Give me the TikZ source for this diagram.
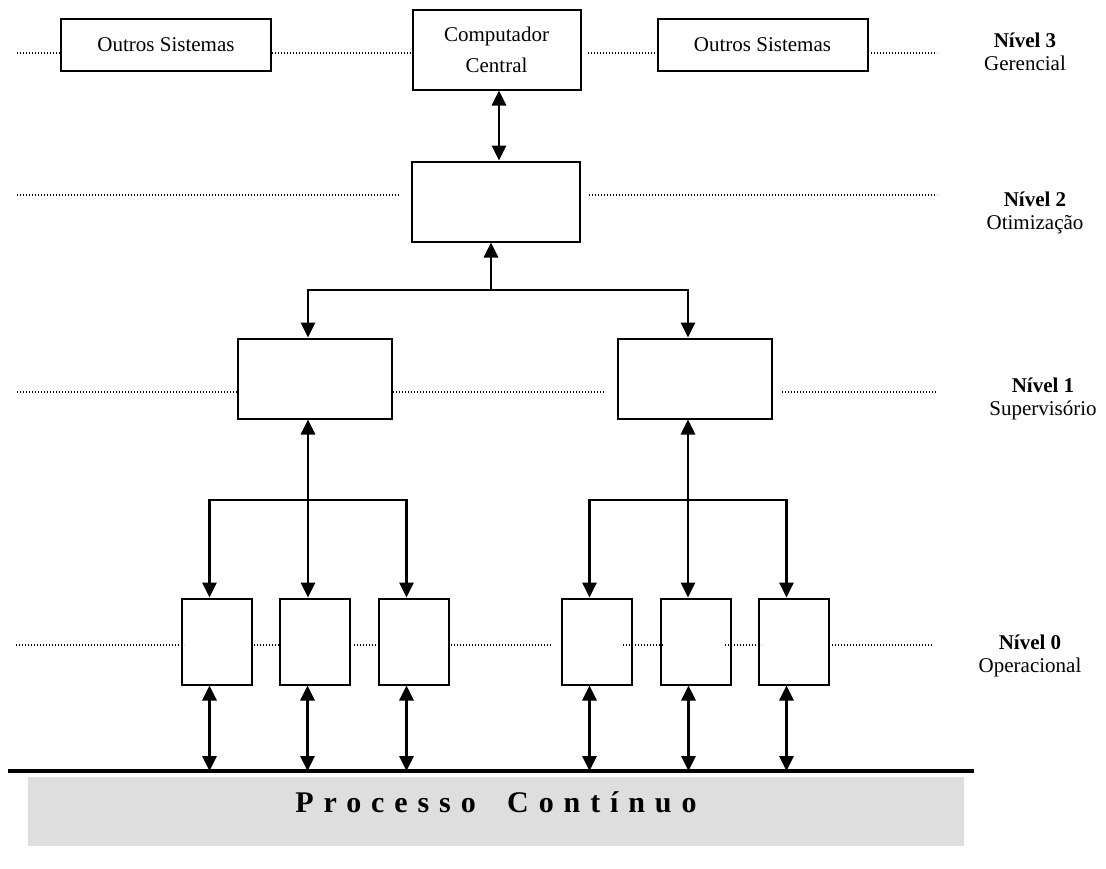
\documentclass[tikz,border=0pt]{standalone}
\usepackage{fontspec}
\setmainfont{Liberation Serif}
\usetikzlibrary{arrows.meta}

\begin{document}
\begin{tikzpicture}[thick, x=0.5pt, y=-0.5pt,
    font=\fontsize{10.5}{11.5}\selectfont,
    >={Triangle[length=7.5pt,width=7pt]},
    caixa/.style={draw, line width=1pt, inner sep=0pt},
    seta/.style={line width=1.45pt},
    nivel/.style={line width=0.6pt, dash pattern=on 0.6pt off 0.9pt}]
  \useasboundingbox (0,0) rectangle (1106,868);

  \node[caixa, minimum width=105pt, minimum height=26pt] (os1) at (166,45) {Outros Sistemas};
  \node[caixa, minimum width=84pt, minimum height=40pt, align=center] (cc) at (496.5,49.5) {Computador\\[4pt]Central};
  \node[caixa, minimum width=105pt, minimum height=26pt] (os2) at (762.5,45) {Outros Sistemas};
  \node[caixa, minimum width=84pt, minimum height=40pt] (otim) at (496,201.5) {};
  \node[caixa, minimum width=77pt, minimum height=40pt] (sup1) at (315,378.5) {};
  \node[caixa, minimum width=77pt, minimum height=40pt] (sup2) at (695,378.5) {};
  \foreach \x/\n in {216.5/1, 314.5/2, 413.5/3, 596.5/4, 695.5/5, 793.5/6}
    \node[caixa, minimum width=35pt, minimum height=43pt] (op\n) at (\x,641.5) {};

  \node[align=center] (n3) at (1025,52) {\textbf{Nível 3}\\Gerencial};
  \node[align=center] (n2) at (1035,213) {\textbf{Nível 2}\\Otimização};
  \node[align=center] (n1) at (1043,399) {\textbf{Nível 1}\\Supervisório};
  \node[align=center] (n0) at (1030,656) {\textbf{Nível 0}\\Operacional};

  \foreach \a/\b in {17/60, 272/412, 588/657, 871/937}
    \draw[nivel] (\a,53) -- (\b,53);
  \foreach \a/\b in {17/400, 589/937}
    \draw[nivel] (\a,195) -- (\b,195);
  \foreach \a/\b in {17/237, 393/606, 782/937}
    \draw[nivel] (\a,392) -- (\b,392);
  \foreach \a/\b in {16/184, 254/279, 354/379, 451/552, 623/663, 725/761, 829/933}
    \draw[nivel] (\a,645) -- (\b,645);

  \coordinate (c1) at ([xshift=1.25pt]cc.south);
  \draw[seta, <->] (c1) -- (c1 |- otim.north);

  \coordinate (b2) at (491,290);
  \coordinate (s1) at ([xshift=-3.5pt]sup1.north);
  \coordinate (s2) at ([xshift=-3.5pt]sup2.north);
  \draw[seta, ->] (b2) -- (b2 |- otim.south);
  \draw[seta, ->] (b2) -| (s1);
  \draw[seta, ->] (b2) -| (s2);

  \foreach \n in {1,...,6}
    \coordinate (t\n) at ([xshift=-3.5pt]op\n.north);
  \coordinate (u1) at ([xshift=-3.5pt]sup1.south);
  \coordinate (u2) at ([xshift=-3.5pt]sup2.south);
  \coordinate (k1) at (308,500);
  \coordinate (k2) at (688,500);
  \draw[seta, <->] (u1) -- (u1 |- t2);
  \draw[seta, ->] (k1) -| (t1);
  \draw[seta, ->] (k1) -| (t3);
  \draw[seta, <->] (u2) -- (u2 |- t5);
  \draw[seta, ->] (k2) -| (t4);
  \draw[seta, ->] (k2) -| (t6);

  \coordinate (bus) at (8,771);
  \coordinate (busR) at (974,771);
  \draw[line width=1.75pt] (bus) -- (busR);
  \foreach \n in {1,...,6} {
    \coordinate (a\n) at ([xshift=-3.5pt]op\n.south);
    \draw[seta, <->] (a\n) -- (a\n |- bus);
  }

  \fill[black!13] (28,777) rectangle (964,846);
  \node[font=\fontsize{15}{17}\selectfont\bfseries\addfontfeature{LetterSpace=33}] (proc) at (496,802) {Processo\hspace{7pt} Contínuo};
\end{tikzpicture}
\end{document}
